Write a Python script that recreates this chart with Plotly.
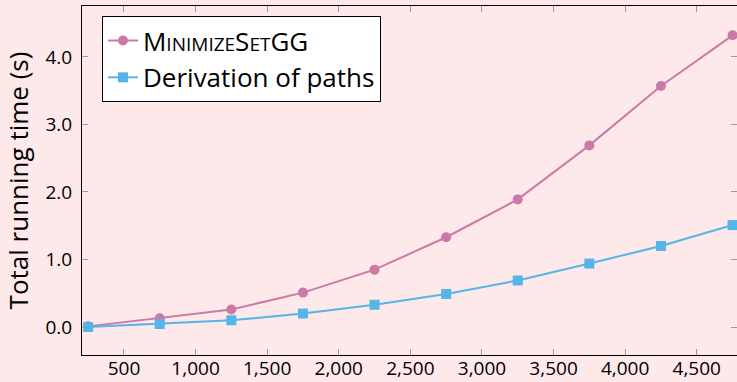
import plotly.graph_objects as go

sizes = [250, 750, 1250, 1750, 2250, 2750, 3250, 3750, 4250, 4750]
minimize_set_gg = [0.01, 0.13, 0.26, 0.51, 0.85, 1.33, 1.89, 2.69, 3.57, 4.32]
derivation_paths = [0.0, 0.045, 0.10, 0.20, 0.33, 0.49, 0.69, 0.94, 1.20, 1.51]
x_ticks = [500, 1000, 1500, 2000, 2500, 3000, 3500, 4000, 4500]
y_ticks = [0.0, 1.0, 2.0, 3.0, 4.0]

PINK = "#cc79a7"
BLUE = "#56b4e9"
BG = "#fde9e9"
FONT = "Open Sans"

sc = "font-size:19px"
name1 = f"M<span style='{sc}'>INIMIZE</span>S<span style='{sc}'>ET</span>GG"

fig = go.Figure()
fig.add_trace(go.Scatter(x=sizes, y=minimize_set_gg, mode="lines+markers", name=name1,
                         line=dict(color=PINK, width=2),
                         marker=dict(symbol="circle", size=10, color=PINK)))
fig.add_trace(go.Scatter(x=sizes, y=derivation_paths, mode="lines+markers", name="Derivation of paths",
                         line=dict(color=BLUE, width=2),
                         marker=dict(symbol="square", size=10, color=BLUE)))

axis_common = dict(showline=True, linecolor="black", linewidth=1, mirror="ticks",
                   ticks="inside", ticklen=6, tickcolor="#999999", tickwidth=1,
                   showgrid=False, zeroline=False, automargin=False,
                   tickfont=dict(family=FONT, size=19, color="black"))

fig.update_layout(
    width=737, height=382,
    margin=dict(l=82, r=0, t=6, b=27),
    paper_bgcolor=BG, plot_bgcolor=BG,
    font=dict(family=FONT, color="black"),
    showlegend=True,
    legend=dict(x=0.0305, y=0.971, xanchor="left", yanchor="top",
                bgcolor="white", bordercolor="black", borderwidth=1,
                font=dict(family=FONT, size=26, color="black"),
                tracegroupgap=0, itemwidth=30),
    xaxis=dict(range=[207, 4781], tickvals=x_ticks,
               ticktext=[f"{v:,}" for v in x_ticks], ticklabelstandoff=-4, **axis_common),
    yaxis=dict(range=[-0.414, 4.754], tickvals=y_ticks,
               ticktext=[f"{v:.1f}" for v in y_ticks], ticklabelstandoff=5,
               title=dict(text="Total running time (s)", font=dict(family=FONT, size=26)),
               **axis_common),
)

fig.write_html("out.html", config={"displayModeBar": False},
               post_script="document.body.style.margin='0';document.body.style.overflow='hidden';")
